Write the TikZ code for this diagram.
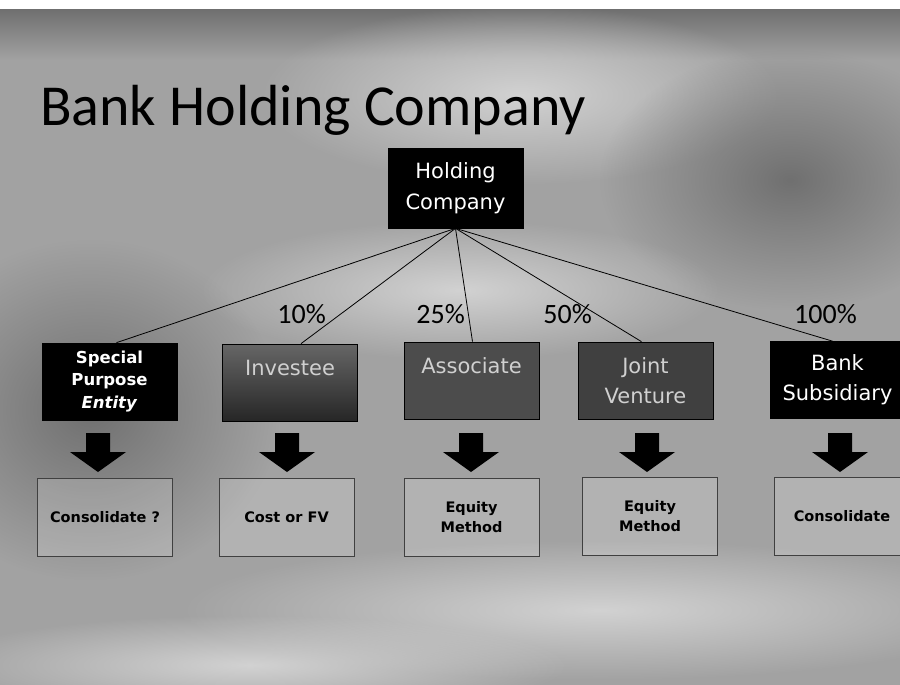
\documentclass[tikz,border=0pt]{standalone}
\usepackage{fontspec}
\setmainfont{DejaVu Sans}
\newfontfamily\titlefont{Carlito}
\usetikzlibrary{calc,fadings}
\definecolor{bgcol}{HTML}{A2A2A2}
\definecolor{lightbg}{HTML}{D2D2D2}
\definecolor{darkbg}{HTML}{707070}
\definecolor{boxtxt}{HTML}{D0D0D0}
\tikzfading[name=softblob, inner color=transparent!0, outer color=transparent!100]
\tikzset{
  topbox/.style={draw=black, line width=0.7, minimum width=135, minimum height=77,
    inner sep=0, align=center, text=white, font=\fontsize{21}{30}\selectfont},
  botbox/.style={draw=black!75, line width=0.7, fill=white, fill opacity=0.18, text opacity=1,
    minimum width=135, minimum height=78, inner sep=0, align=center, text=black,
    font=\bfseries\fontsize{14.5}{20}\selectfont},
  link/.style={draw=black, line width=0.8},
  pct/.style={font=\titlefont\fontsize{28}{30}\selectfont, text=black, inner sep=0},
  blockarrow/.style={fill=black},
  blob/.style={fill=#1, path fading=softblob}
}
\newcommand\downarrowat[1]{%
  \fill[blockarrow] (#1-12,433) -- (#1+12,433) -- (#1+12,452) -- (#1+28,452) -- (#1,472)
    -- (#1-28,452) -- (#1-12,452) -- cycle;}
\begin{document}
\begin{tikzpicture}[x=1pt,y=-1pt]
\useasboundingbox (0,0) rectangle (900,685);
\begin{scope}
\clip (0,0) rectangle (900,685);
\fill[bgcol] (0,0) rectangle (900,685);
\shade[top color=darkbg, bottom color=bgcol] (0,10) rectangle (900,60);
\fill[blob=lightbg] (520,95) ellipse [x radius=260, y radius=90];
\fill[blob=darkbg] (790,180) ellipse [x radius=190, y radius=130];
\fill[blob=darkbg] (90,410) ellipse [x radius=190, y radius=170];
\fill[blob=lightbg] (600,610) ellipse [x radius=420, y radius=70];
\fill[blob=lightbg] (250,665) ellipse [x radius=320, y radius=50];
\fill[blob=lightbg] (460,290) ellipse [x radius=260, y radius=70];
\fill[white] (0,0) rectangle (900,9);
\end{scope}

\node[anchor=base west, inner sep=0, font=\titlefont\fontsize{58}{60}\selectfont] (title) at (40,125) {Bank Holding Company};

\node[topbox, fill=black, minimum height=80, font=\fontsize{21}{31}\selectfont] (hc) at (455.5,188) {Holding\\Company};

\node[topbox, fill=black, font=\bfseries\fontsize{16.5}{22.5}\selectfont] (spe) at (109.5,381.5) {Special\\Purpose\\\textit{Entity}};
\node[topbox, top color=black!60, bottom color=black!85, text=boxtxt] (inv) at (290,382.5) {Investee\\\mbox{}};
\node[topbox, fill=black!70, text=boxtxt] (asc) at (471.5,380.5) {Associate\\\mbox{}};
\node[topbox, fill=black!75, text=boxtxt] (jv) at (645.5,380.5) {Joint\\Venture};
\node[topbox, fill=black] (bank) at (837.5,380) {Bank\\Subsidiary};

\draw[link] (hc.south) -- ($(spe.north)+(7,0)$);
\draw[link] (hc.south) -- ($(inv.north)+(11,0)$);
\draw[link] (hc.south) -- ($(asc.north)+(1,0)$);
\draw[link] (hc.south) -- ($(jv.north)+(-4,0)$);
\draw[link] (hc.south) -- ($(bank.north)+(-5,0)$);

\node[pct, anchor=east] (p10) at (326,314) {10\%};
\node[pct, anchor=east] (p25) at (465,314) {25\%};
\node[pct, anchor=east] (p50) at (592,314) {50\%};
\node[pct, anchor=east] (p100) at (857,314) {100\%};

\downarrowat{98}
\downarrowat{287}
\downarrowat{471}
\downarrowat{647}
\downarrowat{840}

\node[botbox] (b1) at (105,517.5) {Consolidate ?};
\node[botbox] (b2) at (286.5,517.5) {Cost or FV};
\node[botbox] (b3) at (471.5,517) {Equity\\Method};
\node[botbox] (b4) at (650,516.5) {Equity\\Method};
\node[botbox] (b5) at (842,516) {Consolidate};
\end{tikzpicture}
\end{document}
